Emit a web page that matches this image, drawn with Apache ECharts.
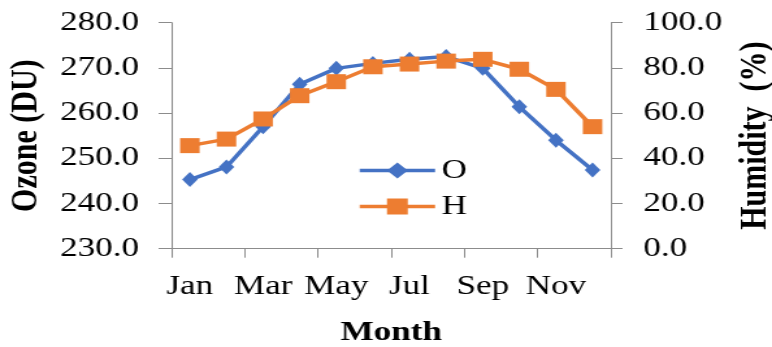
<!DOCTYPE html>
<html>
<head>
<meta charset="utf-8">
<script src="https://cdn.jsdelivr.net/npm/echarts@6/dist/echarts.min.js"></script>
<style>
  html, body { margin: 0; padding: 0; background: #fff; overflow: hidden; }
  /* the figure is laid out narrow, then widened to the page */
  #chart { width: 594px; height: 347px; transform: scaleX(1.2997); transform-origin: 0 0; }
</style>
</head>
<body>
<div id="chart"></div>
<script>
// Monthly mean total ozone and relative humidity
const months = ['Jan', 'Feb', 'Mar', 'Apr', 'May', 'Jun', 'Jul', 'Aug', 'Sep', 'Oct', 'Nov', 'Dec'];
const ozone = [245.3, 248.1, 257.0, 266.4, 269.9, 271.0, 271.9, 272.5, 269.9, 261.4, 254.0, 247.4];
const humidity = [45.6, 48.5, 57.4, 67.7, 73.9, 80.5, 81.7, 83.0, 83.8, 79.4, 70.5, 54.0];

const serif = '"Liberation Serif", "Times New Roman", serif';
const axisGrey = '#8c8c8c';
const blue = '#4472C4';
const orange = '#ED7D31';

const chart = echarts.init(document.getElementById('chart'));
chart.setOption({
  animation: false,
  backgroundColor: '#fff',
  textStyle: { fontFamily: serif, color: '#000' },
  grid: { left: 132, right: 124, top: 22.7, bottom: 98.3, containLabel: false, outerBoundsMode: 'none' },
  legend: {
    orient: 'vertical',
    left: 270,
    top: 152,
    itemWidth: 58,
    itemHeight: 20,
    itemGap: 9,
    lineStyle: { width: 3.5 },
    textStyle: { fontFamily: serif, fontSize: 27, color: '#000' },
    data: ['O', 'H']
  },
  xAxis: {
    type: 'category',
    data: months,
    boundaryGap: true,
    name: 'Month',
    nameLocation: 'middle',
    nameGap: 71,
    nameTextStyle: { fontFamily: serif, fontSize: 27, fontWeight: 'bold', color: '#000' },
    axisLine: { lineStyle: { color: axisGrey, width: 1 } },
    axisTick: { show: true, length: 9, lineStyle: { color: axisGrey } },
    axisLabel: { interval: 1, margin: 25, fontFamily: serif, fontSize: 27, color: '#000' },
    splitLine: { show: false }
  },
  yAxis: [
    {
      type: 'value',
      min: 230, max: 280, interval: 10,
      position: 'left',
      name: 'Ozone (DU)',
      nameLocation: 'middle',
      nameRotate: 90,
      nameGap: 85,
      nameTextStyle: { fontFamily: serif, fontSize: 30, fontWeight: 'bold', color: '#000' },
      axisLine: { show: true, lineStyle: { color: axisGrey, width: 1 } },
      axisTick: { show: true, length: 10, lineStyle: { color: axisGrey } },
      axisLabel: { margin: 25, fontFamily: serif, fontSize: 27, color: '#000',
                   formatter: v => v.toFixed(1) },
      splitLine: { show: false }
    },
    {
      type: 'value',
      min: 0, max: 100, interval: 20,
      position: 'right',
      name: 'Humidity  (%)',
      nameLocation: 'middle',
      nameRotate: 90,
      nameGap: 93,
      nameTextStyle: { fontFamily: serif, fontSize: 30, fontWeight: 'bold', color: '#000' },
      axisLine: { show: true, lineStyle: { color: axisGrey, width: 1 } },
      axisTick: { show: true, length: 9, lineStyle: { color: axisGrey } },
      axisLabel: { margin: 25, fontFamily: serif, fontSize: 27, color: '#000',
                   formatter: v => v.toFixed(1) },
      splitLine: { show: false }
    }
  ],
  series: [
    {
      name: 'O',
      type: 'line',
      yAxisIndex: 0,
      data: ozone,
      symbol: 'diamond',
      symbolSize: [12, 15],
      itemStyle: { color: blue },
      lineStyle: { color: blue, width: 3.5 },
      z: 2
    },
    {
      name: 'H',
      type: 'line',
      yAxisIndex: 1,
      data: humidity,
      symbol: 'rect',
      symbolSize: 15,
      itemStyle: { color: orange },
      lineStyle: { color: orange, width: 3.5 },
      z: 3
    }
  ]
});
</script>
</body>
</html>
